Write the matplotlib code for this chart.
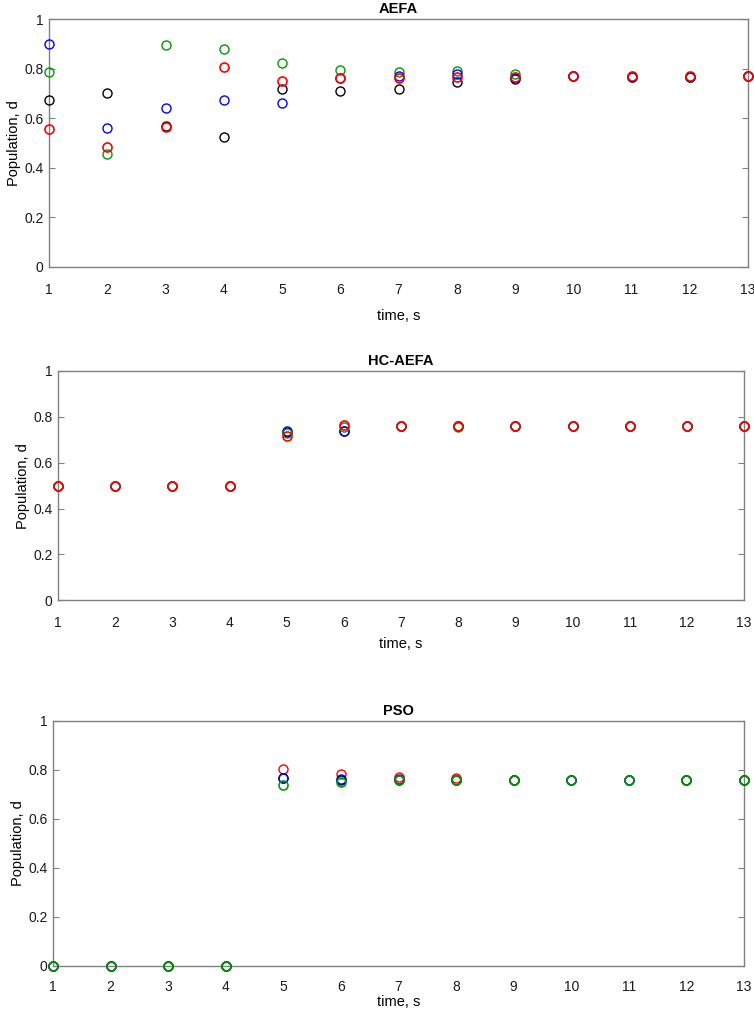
#Population vs time for AEFA, HC-AEFA and PSO
import numpy as np
import matplotlib
matplotlib.use('Agg')
import matplotlib.pyplot as plt

plt.rcParams['font.family']=['Liberation Sans','DejaVu Sans']

#1.Data
t=list(range(1,14))
tick_labels=[str(i) for i in t]

#AEFA
aefa_k=[0.672,0.703,0.570,0.524,0.716,0.711,0.718,0.745,0.758,0.770,0.767,0.768,0.770]
aefa_g=[0.785,0.454,0.894,0.879,0.823,0.796,0.788,0.790,0.777,0.770,0.768,0.768,0.770]
aefa_b=[0.899,0.559,0.641,0.672,0.663,0.762,0.770,0.780,0.764,0.769,0.765,0.765,0.769]
aefa_r=[0.555,0.484,0.563,0.808,0.750,0.763,0.761,0.766,0.768,0.770,0.770,0.770,0.770]

#HC-AEFA
hc_k=[0.5,0.5,0.5,0.5,0.733,0.740,0.758,0.758,0.758,0.758,0.758,0.758,0.758]
hc_b=[0.5,0.5,0.5,0.5,0.738,0.740,0.758,0.758,0.758,0.758,0.758,0.758,0.758]
hc_g=[0.5,0.5,0.5,0.5,0.728,0.757,0.761,0.757,0.758,0.758,0.758,0.758,0.758]
hc_r=[0.5,0.5,0.5,0.5,0.715,0.764,0.758,0.759,0.758,0.758,0.758,0.758,0.758]

#PSO
pso_r=[0,0,0,0,0.802,0.784,0.771,0.765,0.759,0.759,0.759,0.759,0.759]
pso_k=[0,0,0,0,0.765,0.760,0.760,0.760,0.759,0.759,0.759,0.759,0.759]
pso_b=[0,0,0,0,0.767,0.763,0.763,0.759,0.759,0.759,0.759,0.759,0.759]
pso_g=[0,0,0,0,0.736,0.748,0.757,0.757,0.759,0.759,0.759,0.759,0.759]

K='#000000'; G='#009900'; B='#0000ff'; R='#ff0000'

#title, series (last one drawn on top), axes box, tick pad, xlabel pad
panels=[
    ("AEFA",[(aefa_k,K),(aefa_g,G),(aefa_b,B),(aefa_r,R)],[49/754,1-267/1009,699/754,248/1009],11.5,9),
    ("HC-AEFA",[(hc_k,K),(hc_b,B),(hc_g,G),(hc_r,R)],[58/754,1-600.3/1009,686/754,229.3/1009],11.5,5),
    ("PSO",[(pso_r,R),(pso_k,K),(pso_b,B),(pso_g,G)],[53/754,1-965.7/1009,691/754,245/1009],10.5,0.5),
]

fig=plt.figure(figsize=(7.54,10.09),dpi=100)
for title,series,pos,tp,lp in panels:
    ax=fig.add_axes(pos)
    for i,(vals,col) in enumerate(series):
        top=(i==len(series)-1)
        ax.plot(t,vals,'o',mfc='none',mec=col,ms=6.5,mew=1.2 if top else 1.0,
                clip_on=False,zorder=3+i)
    ax.set_xlim(1,13)
    ax.set_ylim(0,1)
    ax.set_xticks(t)
    ax.set_xticklabels(tick_labels)
    ax.set_yticks([0,0.2,0.4,0.6,0.8,1])
    ax.set_yticklabels(['0','0.2','0.4','0.6','0.8','1'])
    ax.tick_params(axis='x',length=0,pad=tp,labelsize=10,colors='#1a1a1a')
    ax.tick_params(axis='y',direction='in',length=4,width=0.8,color='#808080',
                   labelsize=10,labelcolor='#1a1a1a',right=True,pad=4)
    for s in ax.spines.values():
        s.set_color('#808080')
        s.set_linewidth(1.0)
    ax.set_title(title,fontsize=10.5,fontweight='bold',pad=4)
    ax.set_xlabel("time, s",fontsize=10.5,labelpad=lp)
    ax.set_ylabel("Population, d",fontsize=10.5,labelpad=2)

plt.savefig("out.png",dpi=100)
